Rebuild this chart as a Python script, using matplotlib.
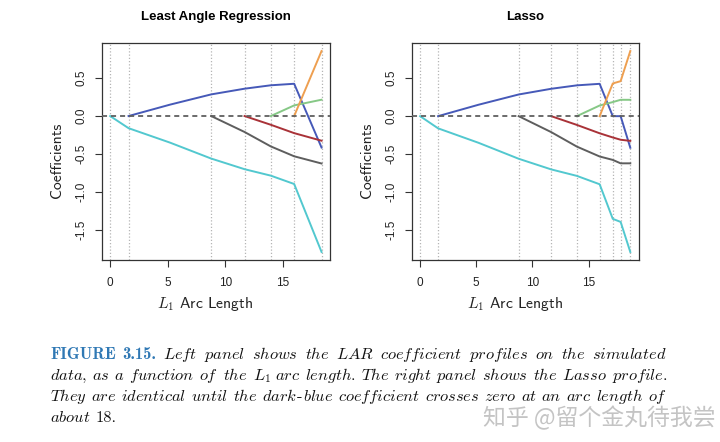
import numpy as np
import matplotlib
matplotlib.use("Agg")
import matplotlib.pyplot as plt

nan = np.nan

# ---------------- data ----------------
lar_arc = [0, 1.6, 5.2, 8.78, 11.68, 13.96, 15.99, 18.37]
lar_cyan = [0, -0.16, -0.35, -0.56, -0.70, -0.785, -0.895, -1.79]
lar_blue = [nan, 0, 0.15, 0.285, 0.36, 0.405, 0.425, -0.415]
lar_gray = [nan, nan, nan, 0, -0.21, -0.40, -0.53, -0.625]
lar_red = [nan, nan, nan, nan, 0, -0.115, -0.225, -0.325]
lar_green = [nan, nan, nan, nan, nan, 0, 0.14, 0.215]
lar_orange = [nan, nan, nan, nan, nan, nan, 0, 0.856]
lar_steps = [0, 1.6, 8.78, 11.68, 13.96, 15.99, 18.37]

lasso_arc = [0, 1.6, 5.2, 8.78, 11.68, 13.96, 15.99, 17.16, 17.86, 18.72]
lasso_cyan = [0, -0.16, -0.35, -0.56, -0.70, -0.785, -0.895, -1.35, -1.39, -1.785]
lasso_blue = [nan, 0, 0.15, 0.285, 0.36, 0.405, 0.425, 0, 0, -0.415]
lasso_gray = [nan, nan, nan, 0, -0.21, -0.40, -0.53, -0.575, -0.62, -0.62]
lasso_red = [nan, nan, nan, nan, 0, -0.115, -0.225, -0.28, -0.31, -0.325]
lasso_green = [nan, nan, nan, nan, nan, 0, 0.14, 0.185, 0.215, 0.215]
lasso_orange = [nan, nan, nan, nan, nan, nan, 0, 0.43, 0.46, 0.856]
lasso_steps = [0, 1.6, 8.78, 11.68, 13.96, 15.99, 17.16, 17.86, 18.72]

titles = ["Least Angle Regression", "Lasso"]
xticks = [0, 5, 10, 15]
yticks = [-1.5, -1.0, -0.5, 0.0, 0.5]
ytick_labels = ["-1.5", "-1.0", "-0.5", "0.0", "0.5"]

colors = {"cyan": "#52c8cf", "blue": "#4659b8", "gray": "#5e5e5e",
          "red": "#a93238", "green": "#86c886", "orange": "#ee9f50"}

plt.rcParams["mathtext.fontset"] = "cm"
plt.rcParams["axes.unicode_minus"] = False

W, H = 720, 442
fig = plt.figure(figsize=(W / 100, H / 100), dpi=100)

panels = [
    ([101.7 / W, 1 - 260 / H, 228.3 / W, 217 / H], lar_arc, lar_steps,
     [("cyan", lar_cyan), ("blue", lar_blue), ("gray", lar_gray), ("red", lar_red),
      ("green", lar_green), ("orange", lar_orange)]),
    ([411.7 / W, 1 - 260 / H, 227 / W, 217 / H], lasso_arc, lasso_steps,
     [("cyan", lasso_cyan), ("blue", lasso_blue), ("gray", lasso_gray), ("red", lasso_red),
      ("green", lasso_green), ("orange", lasso_orange)]),
]

for i, (rect, arc, steps, series) in enumerate(panels):
    ax = fig.add_axes(rect)
    for s in steps:
        ax.axvline(s, color="#b5b5b5", ls=(0, (1, 1.6)), lw=0.9, zorder=1)
    ax.axhline(0, color="#5f5f5f", ls=(0, (2.8, 2.2)), lw=1.3, zorder=3)
    for name, vals in series:
        ax.plot(arc, vals, color=colors[name], lw=1.4, zorder=2)
    ax.margins(x=0.04, y=0.04)
    ax.set_xticks(xticks)
    ax.set_xticklabels([str(t) for t in xticks], family="Liberation Sans", fontsize=8.5, color="#222222")
    ax.set_yticks(yticks)
    ax.set_yticklabels(ytick_labels, family="Liberation Sans", fontsize=8.5, color="#222222",
                       rotation=90, va="center")
    ax.tick_params(direction="out", length=5, width=0.8, color="#333333")
    ax.tick_params(axis="x", pad=7)
    ax.tick_params(axis="y", pad=5)
    for sp in ax.spines.values():
        sp.set_color("#333333")
        sp.set_linewidth(0.9)
    x0 = rect[0] * W
    xc = x0 + rect[2] * W / 2
    fig.text(xc / W, 1 - 17 / H, titles[i], ha="center", va="center",
             family="Liberation Sans", weight="bold", fontsize=9.5)
    fig.text((x0 - 44.7) / W, 1 - 160 / H, "Coefficients", rotation=90, ha="center",
             va="center", family="cmss10", fontsize=11.3, color="#222222")
    fig.text((xc - 10.5) / W, 1 - 304 / H, r"$L_1$ Arc Length", ha="center", va="center",
             family="cmss10", fontsize=11.3, color="#222222")

# ---------------- caption (justified) ----------------
renderer = fig.canvas.get_renderer()


def mi(w):
    return r"$\mathit{" + w + "}$"


def build_lines(size):
    it = dict(fontsize=size, color="#111111")
    rm = dict(fontsize=size, color="#111111", family="cmr10")
    bf = dict(fontsize=size, color="#2f78b4", family="cmb10")
    return [
        [[("FIGURE", bf)], [("3.15.", bf)]] +
        [[(mi(w), it)] for w in "Left panel shows the LAR coefficient profiles on the simulated".split()],
        [[(mi(w), it)] for w in "data, as a function of the".split()] + [[(r"$L_1$", it)]] +
        [[(mi(w), it)] for w in "arc length. The right panel shows the Lasso profile.".split()],
        [[(mi(w), it)] for w in "They are identical until the".split()] +
        [[(mi("dark"), it), ("-", rm), (mi("blue"), it)]] +
        [[(mi(w), it)] for w in "coefficient crosses zero at an arc length of".split()],
        [[(mi("about"), it)], [("18.", rm)]],
    ]


left_px, right_px = 50, 667
baselines = [359, 380, 401, 422]


def measure(words):
    arts, widths = [], []
    for word in words:
        wa, ws = [], 0
        for s, kw in word:
            t = fig.text(0, 0, s, va="baseline", ha="left", **kw)
            bb = t.get_window_extent(renderer)
            wa.append((t, bb.width))
            ws += bb.width
        arts.append(wa)
        widths.append(ws)
    return arts, widths


# find a font size that gives a natural inter-word space of ~0.3 em on the justified lines
probe = build_lines(10)
sizes = []
for words in probe[:3]:
    arts, widths = measure(words)
    for wa in arts:
        for t, _ in wa:
            t.remove()
    ngap = len(words) - 1
    s = (right_px - left_px) / (sum(widths) / 10 + ngap * 0.3 * 100 / 72)
    sizes.append(s)
cap_size = float(np.mean(sizes))

for li, (words, yb) in enumerate(zip(build_lines(cap_size), baselines)):
    arts, widths = measure(words)
    if li < 3:
        gap = (right_px - left_px - sum(widths)) / (len(words) - 1)
    else:
        gap = 0.3 * cap_size * 100 / 72
    x = left_px
    for wa, ws in zip(arts, widths):
        for t, bw in wa:
            t.set_position((x / W, 1 - yb / H))
            x += bw
        x += gap

fig.text(483 / W, 1 - 418 / H, "知乎 @留个金丸待我尝", ha="left", va="center",
         family=["Noto Sans CJK SC", "DejaVu Sans"], fontsize=16.5, color="#c4c4c4")

fig.savefig("out.png", dpi=100)
